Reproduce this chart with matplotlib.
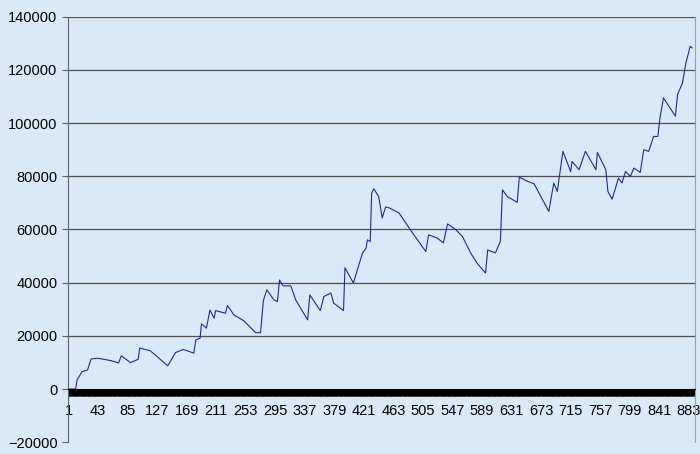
import numpy as np
import matplotlib.pyplot as plt

plt.rcParams['font.family'] = ['Liberation Sans', 'DejaVu Sans']

# trace of the series: category index and value at the turning points
cats = [1, 4, 11, 13, 20, 28, 33, 42, 61, 72, 76, 89, 100, 102, 117, 127, 142,
        153, 164, 179, 182, 188, 190, 197, 202, 208, 210, 224, 227, 236, 250,
        267, 274, 278, 283, 293, 298, 301, 306, 317, 324, 341, 344, 359, 364,
        374, 378, 392, 394, 406, 419, 424, 426, 430, 432, 435, 442, 447, 452,
        458, 471, 487, 492, 509, 513, 525, 534, 540, 551, 561, 573, 582, 594,
        597, 608, 615, 618, 625, 639, 642, 654, 663, 684, 691, 696, 704, 715,
        717, 727, 736, 751, 753, 765, 768, 774, 783, 788, 793, 800, 805, 814,
        819, 826, 833, 839, 842, 847, 864, 867, 874, 879, 885, 888]
values = [0, 0, 0, 3400, 6500, 7200, 11300, 11600, 10700, 9800, 12500, 9900,
          11200, 15400, 14400, 12200, 8700, 13700, 14900, 13500, 18500, 19100,
          24500, 22900, 29700, 26600, 29500, 28500, 31400, 27900, 25700, 21200,
          21200, 33300, 37300, 33500, 32900, 41000, 38800, 38800, 33500, 26000,
          35400, 29500, 34800, 36100, 32300, 29500, 45600, 39900, 51200, 53000,
          56100, 55500, 73700, 75300, 72400, 64400, 68500, 68000, 66200, 59900,
          58000, 51700, 58000, 56800, 55000, 62100, 60100, 57400, 51100, 47300,
          43600, 52300, 51200, 55500, 74900, 72400, 70200, 79700, 78100, 77200,
          66800, 77500, 74300, 89400, 81800, 85600, 82500, 89400, 82500, 89000,
          82500, 74300, 71400, 79300, 77500, 81800, 80000, 83100, 81500, 90000,
          89400, 95000, 95000, 101900, 109500, 102600, 110700, 115100, 122700,
          128900, 128300]

n_cats = 890
tick_labels = list(range(1, n_cats, 42))

bg = '#d9e9f8'
fig = plt.figure(figsize=(7, 4.54), dpi=100, facecolor=bg)
ax = fig.add_axes([0.097, 0.026, 0.896, 0.937], facecolor=bg)

ax.plot(cats, values, color='#26269a', lw=0.8)

ax.set_ylim(-20000, 140000)
ax.set_xlim(0, n_cats + 2)
ax.set_yticks(range(-20000, 140001, 20000))
for v in range(20000, 140001, 20000):
    ax.axhline(v, color='#505050', lw=0.9, zorder=0)

ax.spines['bottom'].set_position(('data', 0))
ax.spines['bottom'].set_color('black')
ax.spines['top'].set_visible(False)
ax.spines['left'].set_color('#606060')
ax.spines['right'].set_color('#a0a0a0')

ax.set_xticks(tick_labels)
ax.set_xticklabels([str(t) for t in tick_labels])
ax.set_xticks(np.arange(1, n_cats + 1), minor=True)
ax.tick_params(axis='x', which='both', direction='out', length=5, width=1,
               color='black', labelsize=10.5, pad=6)
ax.tick_params(axis='y', labelsize=10.5, length=4, color='#606060')

fig.savefig('out.png', dpi=100, facecolor=bg)
